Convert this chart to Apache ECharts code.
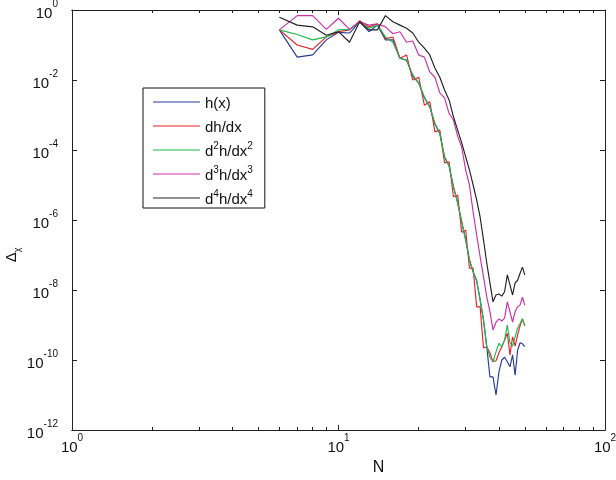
<!DOCTYPE html>
<html>
<head>
<meta charset="utf-8">
<script src="https://cdn.jsdelivr.net/npm/echarts@6/dist/echarts.min.js"></script>
<style>html,body{margin:0;padding:0;background:#fff}#c{width:616px;height:480px}</style>
</head>
<body>
<div id="c"></div>
<script>
const N = [6,7,8,9,10,11,12,13,14,15,16,17,18,19,20,21,22,23,24,25,26,27,28,29,30,31,32,33,34,35,36,37,38,39,40,41,42,43,44,45,46,47,48,49,50];
const hx = [0.27,4.5e-2,5.2e-2,0.14,0.23,0.22,0.46,0.24,0.37,0.14,0.14,4.2e-2,3.7e-2,1.3e-2,8.2e-3,3.1e-3,1.7e-3,5.5e-4,2.9e-4,6.3e-5,3.5e-5,8.8e-6,3.1e-6,8.8e-7,2.7e-7,7.2e-8,3.3e-8,1.8e-8,5.2e-9,1.4e-9,2.4e-10,3.3e-11,3.3e-11,1.0e-11,4.6e-11,1.0e-10,1.2e-10,8.9e-11,6.4e-11,1.4e-10,3.7e-11,1.9e-10,3.1e-10,2.9e-10,2.4e-10];
const dh = [0.27,0.10,7.5e-2,0.17,0.24,0.27,0.49,0.33,0.40,0.15,0.17,4.2e-2,5.2e-2,1.0e-2,1.2e-2,1.9e-3,2.4e-3,3.3e-4,3.7e-4,4.3e-5,4.6e-5,4.6e-6,5.2e-6,4.5e-7,5.2e-7,4.2e-8,4.2e-8,3.3e-9,3.3e-9,2.2e-10,2.4e-10,1.6e-10,8.9e-11,9.5e-11,1.6e-10,2.4e-10,3.7e-10,5.8e-10,1.4e-10,4.6e-10,2.5e-10,5.2e-10,9.4e-10,1.5e-9,9.4e-10];
const d2h = [0.27,0.20,0.14,0.17,0.27,0.28,0.43,0.30,0.37,0.17,0.12,4.2e-2,3.7e-2,1.4e-2,8.1e-3,3.3e-3,1.7e-3,5.8e-4,3.0e-4,6.4e-5,3.5e-5,8.9e-6,3.1e-6,8.8e-7,2.7e-7,7.2e-8,3.3e-8,1.9e-8,5.2e-9,1.4e-9,2.4e-10,1.2e-10,8.9e-11,1.7e-10,3.0e-10,2.4e-10,3.7e-10,1.0e-9,3.1e-10,2.5e-10,4.6e-10,8.2e-10,1.1e-9,1.5e-9,9.4e-10];
const d3h = [0.27,0.69,0.69,0.28,0.58,0.28,0.46,0.37,0.40,0.33,0.21,0.24,0.12,0.13,5.2e-2,4.5e-2,1.7e-2,1.2e-2,4.3e-3,3.1e-3,1.1e-3,7.2e-4,2.5e-4,1.2e-4,2.7e-5,1.0e-5,1.7e-6,3.7e-7,8.9e-8,2.4e-8,6.4e-9,2.4e-9,7.2e-10,1.2e-9,1.5e-9,1.3e-9,1.6e-9,4.6e-9,2.4e-9,1.2e-9,2.4e-9,3.3e-9,3.7e-9,6.2e-9,3.7e-9];
const d4h = [0.62,0.37,0.33,0.19,0.24,0.12,0.46,0.27,0.27,0.69,0.46,0.37,0.30,0.22,0.12,8.1e-2,5.2e-2,2.2e-2,1.2e-2,5.2e-3,2.7e-3,8.9e-4,3.7e-4,1.6e-4,6.4e-5,2.7e-5,1.0e-5,3.7e-6,1.2e-6,2.7e-7,5.9e-8,1.6e-8,4.6e-9,7.2e-9,7.7e-9,6.7e-9,8.9e-9,2.7e-8,1.4e-8,7.2e-9,1.6e-8,1.9e-8,3.0e-8,4.5e-8,2.7e-8];
const seriesNames = ['h(x)','dh/dx','d2h/dx2','d3h/dx3','d4h/dx4'];
const seriesColors = ['#2a3a9c','#e8202a','#1fb84e','#cc2fa8','#222222'];
const xMajor = [1,10,100];
const xMinor = [2,3,4,5,6,7,8,9,20,30,40,50,60,70,80,90];
const yTicks = [1e-12,1e-10,1e-8,1e-6,1e-4,1e-2,1];

const font = 'Liberation Sans, Arial, Helvetica, sans-serif';
const supRich = {
  b: {fontSize: 15, fontFamily: font, color: '#111', lineHeight: 22, verticalAlign: 'bottom', padding: [6,0,0,0]},
  e: {fontSize: 10, fontFamily: font, color: '#111', lineHeight: 14, verticalAlign: 'top'}
};
const pow10 = v => '{b|10}{e|' + Math.round(Math.log10(v)) + '}';
const legendFmt = {
  'h(x)': '{b|h(x)}',
  'dh/dx': '{b|dh/dx}',
  'd2h/dx2': '{b|d}{e|2}{b|h/dx}{e|2}',
  'd3h/dx3': '{b|d}{e|3}{b|h/dx}{e|3}',
  'd4h/dx4': '{b|d}{e|4}{b|h/dx}{e|4}'
};
const lineCol = '#222';
function xAx(pos, ticks, len, labels) {
  return {
    type: 'log', logBase: 10, min: 1, max: 100, position: pos, gridIndex: 0,
    axisLine: {show: true, lineStyle: {color: lineCol, width: 1}},
    axisTick: {show: true, inside: true, length: len, customValues: ticks, lineStyle: {color: lineCol}},
    axisLabel: labels ? {show: true, customValues: xMajor, formatter: pow10, rich: supRich, margin: 3} : {show: false},
    splitLine: {show: false}, minorTick: {show: false}
  };
}
const xAxes = [xAx('bottom', xMajor, 5, true), xAx('bottom', xMinor, 3, false), xAx('top', xMajor, 5, false), xAx('top', xMinor, 3, false)];
xAxes[0].name = 'N';
xAxes[0].nameLocation = 'middle';
xAxes[0].nameGap = 30;
xAxes[0].nameTextStyle = {fontSize: 16, fontFamily: font, color: '#111', padding: [0,0,0,80]};

function yAx(pos, labels) {
  return {
    type: 'log', logBase: 10, min: 1e-12, max: 1, position: pos,
    axisLine: {show: true, lineStyle: {color: lineCol, width: 1}},
    axisTick: {show: true, inside: true, length: 5, customValues: yTicks, lineStyle: {color: lineCol}},
    axisLabel: labels ? {show: true, customValues: yTicks, formatter: pow10, rich: supRich, margin: 14} : {show: false},
    splitLine: {show: false}, minorTick: {show: false}
  };
}
const yAxes = [yAx('left', true), yAx('right', false)];
yAxes[0].name = '{a|Δ}{s|χ}';
yAxes[0].nameLocation = 'middle';
yAxes[0].nameGap = 50;
yAxes[0].nameMoveOverlap = false;
yAxes[0].nameTextStyle = {padding: [0,70,0,0], rich: {
  a: {fontSize: 15, fontFamily: font, color: '#111', lineHeight: 18, verticalAlign: 'top'},
  s: {fontSize: 9, fontFamily: font, color: '#111', lineHeight: 14, verticalAlign: 'bottom'}
}};

const series = seriesNames.map((name, k) => {
  const vals = [hx, dh, d2h, d3h, d4h][k];
  return {
    name, type: 'line', xAxisIndex: 0, yAxisIndex: 0,
    data: N.map((n, i) => [n, vals[i]]),
    symbol: 'none', showSymbol: false, animation: false,
    lineStyle: {color: seriesColors[k], width: 1.15}, itemStyle: {color: seriesColors[k]}
  };
});

const chart = echarts.init(document.getElementById('c'), null, {renderer: 'canvas'});
chart.setOption({
  animation: false,
  backgroundColor: '#fff',
  grid: {left: 72, right: 11, top: 10, bottom: 50, containLabel: false, outerBoundsMode: 'none'},
  xAxis: xAxes,
  yAxis: yAxes,
  legend: {
    data: seriesNames, orient: 'vertical', left: 143, top: 88,
    icon: 'path://M0,0H47V1.2H0Z', symbolKeepAspect: true,
    backgroundColor: '#fff', borderColor: '#111', borderWidth: 1,
    padding: [4, 12, 1, 10], itemGap: 5, itemWidth: 47, itemHeight: 14,
    formatter: n => legendFmt[n],
    textStyle: {rich: {
      b: {fontSize: 15, fontFamily: font, color: '#111', lineHeight: 18, verticalAlign: 'bottom', padding: [4,0,0,0]},
      e: {fontSize: 10, fontFamily: font, color: '#111', lineHeight: 12, verticalAlign: 'top'}
    }}
  },
  series
});
</script>
</body>
</html>
